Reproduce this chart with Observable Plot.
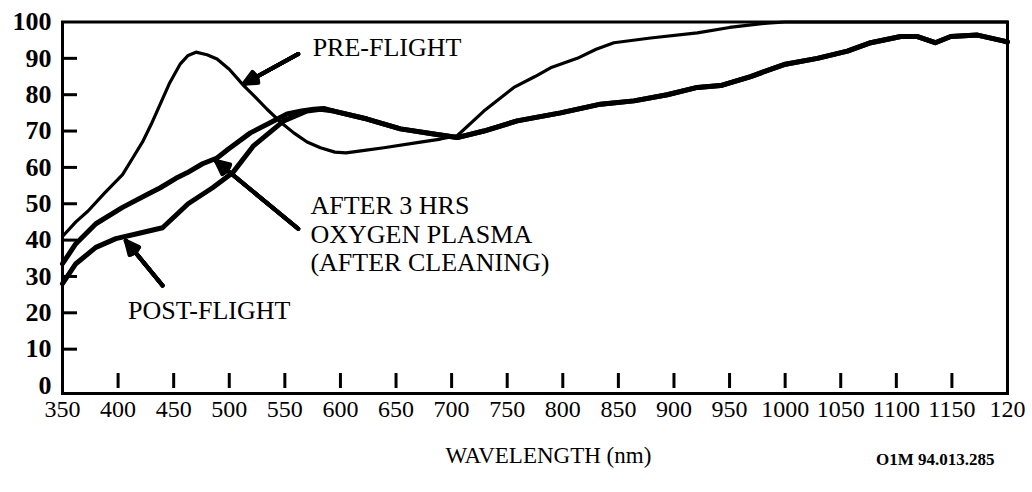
<!DOCTYPE html>
<html>
<head>
<meta charset="utf-8">
<script src="https://cdn.jsdelivr.net/npm/d3@7"></script>
<script src="https://cdn.jsdelivr.net/npm/@observablehq/plot@0.6"></script>
<style>
  body { margin: 0; background: #fff; }
  #chart svg { display: block; }
</style>
</head>
<body>
<div id="chart"></div>
<script>
// ---- Data ----
const preWave = [350, 362, 373, 388, 404, 414, 422, 430, 438, 446, 456, 463, 470, 480, 489, 500, 513, 523, 534, 546, 558, 570, 582, 595, 605, 620, 639, 669, 690, 705, 729, 756, 775, 789, 813, 830, 846, 879, 921, 950, 984, 1000, 1100, 1200];
const preVal  = [41, 45, 48, 53, 58, 63, 67, 72, 77.5, 83, 88.5, 90.8, 91.7, 91, 89.8, 87, 82.5, 79.5, 76, 72.5, 69.5, 67, 65.4, 64.2, 64, 64.6, 65.4, 66.8, 67.8, 68.7, 75.5, 82, 85, 87.4, 90, 92.5, 94.3, 95.6, 97, 98.5, 99.7, 100, 100, 100];

const cleanWave = [350, 362, 380, 404, 427, 438, 452, 462, 476, 489, 499, 519, 535, 552, 565, 576, 585, 594, 624, 654, 684, 705, 729, 759, 798, 834, 864, 894, 921, 942, 969, 999, 1029, 1056, 1077, 1104, 1119, 1135, 1149, 1173, 1196, 1200];
const cleanVal  = [33.5, 39, 44.5, 49, 52.7, 54.4, 57, 58.5, 61, 62.6, 65, 69.5, 72, 74.7, 75.5, 76, 76.2, 75.5, 73.3, 70.6, 69.2, 68.2, 70, 72.8, 75, 77.4, 78.3, 80, 82, 82.5, 85, 88.3, 90, 92, 94.3, 96, 96, 94.3, 96, 96.4, 94.8, 94.5];

const postWave = [350, 362, 380, 398, 418, 440, 463, 485, 503, 522, 549, 570, 582, 594, 624, 654, 684, 705, 729, 759, 798, 834, 864, 894, 921, 942, 969, 999, 1029, 1056, 1077, 1104, 1119, 1135, 1149, 1173, 1196, 1200];
const postVal  = [28, 33.5, 38, 40.4, 41.8, 43.4, 50, 54.4, 58.5, 66, 72.8, 75.5, 76, 75.5, 73.3, 70.6, 69.2, 68.2, 70, 72.8, 75, 77.4, 78.3, 80, 82, 82.5, 85, 88.3, 90, 92, 94.3, 96, 96, 94.3, 96, 96.4, 94.8, 94.5];

const xTicks = [350, 400, 450, 500, 550, 600, 650, 700, 750, 800, 850, 900, 950, 1000, 1050, 1100, 1150, 1200];
const xTickLabels = ["350", "400", "450", "500", "550", "600", "650", "700", "750", "800", "850", "900", "950", "1000", "1050", "1100", "1150", "120"];
const xInnerTicks = [400, 450, 500, 550, 600, 650, 700, 750, 800, 850, 900, 950, 1000, 1050, 1100, 1150];
const yTicks = [0, 10, 20, 30, 40, 50, 60, 70, 80, 90, 100];
const yInnerTicks = [10, 20, 30, 40, 50, 60, 70, 80, 90];

const labelText = ["PRE-FLIGHT", "POST-FLIGHT", "AFTER 3 HRS\nOXYGEN PLASMA\n(AFTER CLEANING)"];
const labelWave = [575, 409, 573];
const labelVal  = [93.1, 20.9, 41.8];

const arrowFromWave = [562, 440, 562];
const arrowFromVal  = [91.2, 27.5, 43.1];
const arrowToWave   = [513, 407, 488];
const arrowToVal    = [83, 39.8, 61.8];

const xLabelText = "WAVELENGTH (nm)";
const xLabelWave = 787;
const refCode = "O1M 94.013.285";
const refCodeWave = 1135;

// ---- Build tables ----
const toRows = (w, v) => w.map((x, i) => ({wavelength: x, value: v[i]}));
const pre = toRows(preWave, preVal);
const clean = toRows(cleanWave, cleanVal);
const post = toRows(postWave, postVal);
const labels = labelText.map((t, i) => ({text: t, wavelength: labelWave[i], value: labelVal[i]}));
const arrows = arrowFromWave.map((x, i) => ({x1: x, y1: arrowFromVal[i], x2: arrowToWave[i], y2: arrowToVal[i]}));
const tickLabel = new Map(xTicks.map((t, i) => [t, xTickLabels[i]]));

const serif = "'Liberation Serif', 'Times New Roman', serif";

// filled-looking arrowheads: fan of chevrons with decreasing angles
const arrowHeads = [50, 38, 26, 14, 4].map(a =>
  Plot.arrow(arrows, {x1: "x1", y1: "y1", x2: "x2", y2: "y2", stroke: "#000", strokeWidth: 4, headLength: 5.5, headAngle: a})
);

const chart = Plot.plot({
  width: 1032,
  height: 492,
  marginLeft: 62,
  marginRight: 25,
  marginTop: 21.5,
  marginBottom: 99,
  style: {fontFamily: serif, color: "#000", background: "#fff", overflow: "visible"},
  x: {domain: [350, 1200]},
  y: {domain: [-2.2, 100]},
  marks: [
    Plot.frame({stroke: "#000", strokeWidth: 3}),
    Plot.tickY(yInnerTicks, {y: d => d, stroke: "#000", strokeWidth: 3, insetRight: 930}),
    Plot.tickX(xInnerTicks, {x: d => d, stroke: "#000", strokeWidth: 3, insetTop: 351.5, insetBottom: 5}),
    Plot.axisY({ticks: yTicks, tickSize: 0, tickPadding: 11, fontSize: 26, fontWeight: "bold", label: null, fontFamily: serif}),
    Plot.axisX({ticks: xTicks, tickSize: 0, tickPadding: 6, fontSize: 24, label: null, fontFamily: serif, tickFormat: d => tickLabel.get(d)}),
    Plot.line(pre, {x: "wavelength", y: "value", stroke: "#000", strokeWidth: 3.2, strokeLinejoin: "round"}),
    Plot.line(clean, {x: "wavelength", y: "value", stroke: "#000", strokeWidth: 5, strokeLinejoin: "round"}),
    Plot.line(post, {x: "wavelength", y: "value", stroke: "#000", strokeWidth: 5, strokeLinejoin: "round"}),
    ...arrowHeads,
    Plot.text(labels, {x: "wavelength", y: "value", text: "text", textAnchor: "start", fontSize: 26, lineHeight: 1.1, fill: "#000", fontFamily: serif}),
    Plot.text([xLabelText], {x: () => xLabelWave, text: d => d, frameAnchor: "bottom", dy: 69, fontSize: 23, fill: "#000", fontFamily: serif}),
    Plot.text([refCode], {x: () => refCodeWave, text: d => d, frameAnchor: "bottom", dy: 71, fontSize: 17, fontWeight: "bold", fill: "#000", fontFamily: serif})
  ]
});
document.getElementById("chart").appendChild(chart);
</script>
</body>
</html>
